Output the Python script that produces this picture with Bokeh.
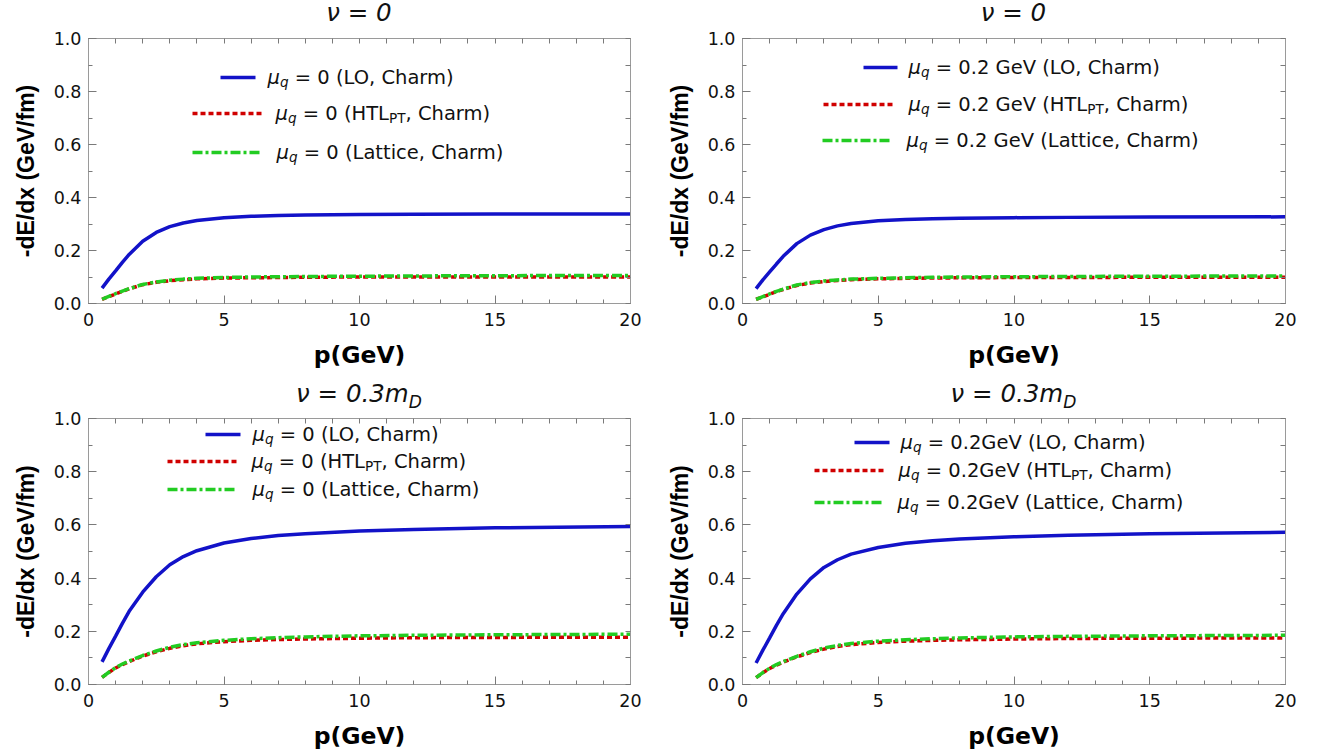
from bokeh.plotting import figure
from bokeh.layouts import column, row
from bokeh.models import Range1d, LinearAxis, SingleIntervalTicker, FixedTicker, Label, NumeralTickFormatter, Div
from bokeh.embed import file_html
from bokeh.resources import INLINE

# ---------------- data ----------------
p_gev = [0.5, 0.75, 1, 1.25, 1.5, 2, 2.5, 3, 3.5, 4, 5, 6, 7, 8, 10, 12, 15, 20]

# nu = 0, mu_q = 0
lo_nu0_mu0 = [0.058, 0.092, 0.123, 0.155, 0.185, 0.235, 0.268, 0.290, 0.304, 0.313, 0.324, 0.329, 0.332, 0.334, 0.336, 0.337, 0.338, 0.338]
htl_nu0_mu0 = [0.016, 0.026, 0.036, 0.046, 0.055, 0.071, 0.080, 0.086, 0.090, 0.093, 0.096, 0.097, 0.098, 0.099, 0.100, 0.100, 0.100, 0.100]
lat_nu0_mu0 = [0.016, 0.027, 0.037, 0.047, 0.056, 0.072, 0.081, 0.088, 0.092, 0.095, 0.098, 0.100, 0.101, 0.102, 0.103, 0.104, 0.105, 0.106]

# nu = 0, mu_q = 0.2 GeV
lo_nu0_mu02 = [0.056, 0.089, 0.119, 0.149, 0.178, 0.226, 0.258, 0.279, 0.293, 0.302, 0.312, 0.317, 0.320, 0.322, 0.324, 0.325, 0.326, 0.327]
htl_nu0_mu02 = [0.016, 0.025, 0.035, 0.045, 0.053, 0.068, 0.077, 0.083, 0.087, 0.090, 0.093, 0.095, 0.096, 0.097, 0.098, 0.098, 0.099, 0.099]
lat_nu0_mu02 = [0.016, 0.026, 0.036, 0.046, 0.054, 0.070, 0.079, 0.085, 0.089, 0.092, 0.095, 0.097, 0.099, 0.100, 0.101, 0.102, 0.103, 0.104]

# nu = 0.3 m_D, mu_q = 0
lo_nu03_mu0 = [0.085, 0.135, 0.182, 0.230, 0.275, 0.347, 0.405, 0.450, 0.481, 0.503, 0.532, 0.549, 0.560, 0.567, 0.577, 0.583, 0.589, 0.594]
htl_nu03_mu0 = [0.027, 0.045, 0.062, 0.075, 0.086, 0.107, 0.123, 0.136, 0.146, 0.153, 0.161, 0.166, 0.169, 0.171, 0.174, 0.176, 0.177, 0.178]
lat_nu03_mu0 = [0.027, 0.046, 0.063, 0.077, 0.088, 0.109, 0.126, 0.140, 0.150, 0.157, 0.166, 0.172, 0.176, 0.179, 0.183, 0.185, 0.187, 0.189]

# nu = 0.3 m_D, mu_q = 0.2 GeV
lo_nu03_mu02 = [0.081, 0.129, 0.175, 0.222, 0.266, 0.340, 0.397, 0.440, 0.469, 0.490, 0.515, 0.531, 0.540, 0.547, 0.555, 0.561, 0.567, 0.572]
htl_nu03_mu02 = [0.026, 0.044, 0.060, 0.073, 0.084, 0.104, 0.120, 0.133, 0.143, 0.150, 0.158, 0.163, 0.166, 0.168, 0.171, 0.173, 0.174, 0.175]
lat_nu03_mu02 = [0.026, 0.045, 0.061, 0.075, 0.086, 0.106, 0.123, 0.137, 0.147, 0.154, 0.163, 0.168, 0.172, 0.175, 0.179, 0.181, 0.183, 0.185]

x_label = "p(GeV)"
y_label = "-dE/dx (GeV/fm)"
titles = [("ν = 0", ""), ("ν = 0", ""), ("ν = 0.3m", "D"), ("ν = 0.3m", "D")]
mu_texts = ["0", "0.2 GeV", "0", "0.2GeV"]

# ---------------- styles ----------------
FONT = "DejaVu Sans"
YFONT = "Liberation Sans"
BLUE, RED, GREEN = "#1212C8", "#D00000", "#22CC22"
RED_DASH, GREEN_DASH = "5 3", "10 3 3 3"
LW = 3.5
FRAME = "#9a9a9a"
TICKC = "#7a7a7a"
TICK_FS = 17.5
LEG_FS = 19.5
TITLE_FS = 24.5
XLABEL_FS = 23.5
YLABEL_FS = 23

# DejaVu Sans advance widths (per 1000 em)
CW = {' ': 318, '(': 390, ')': 390, ',': 318, '.': 318, '=': 838, '-': 361, '/': 337,
      'A': 684, 'C': 698, 'D': 770, 'G': 775, 'H': 752, 'L': 557, 'O': 787, 'P': 603,
      'T': 611, 'V': 684, 'a': 613, 'c': 550, 'e': 615, 'h': 634, 'i': 278, 'm': 974,
      'r': 411, 't': 392, 'q': 635, 'μ': 636, 'ν': 592}


def tw(s, size):
    return sum(CW.get(c, 636) for c in s) / 1000.0 * size


# frame geometry in page pixels: (left, top, width, height); figure origin; figure size
panels = [
    dict(frame=(88, 38, 542, 265), origin=(0, 26), size=(659, 352),
         legend=[(220, 255, 267, 77), (192, 261, 275, 113), (192, 261, 276, 152)],
         series=(lo_nu0_mu0, htl_nu0_mu0, lat_nu0_mu0), mu=mu_texts[0]),
    dict(frame=(742, 38, 543, 265), origin=(659, 26), size=(658, 352),
         legend=[(863, 897, 908, 67), (823, 894, 908, 104), (822, 889, 906, 140)],
         series=(lo_nu0_mu02, htl_nu0_mu02, lat_nu0_mu02), mu=mu_texts[1]),
    dict(frame=(88, 418, 542, 266), origin=(0, 410), size=(659, 342),
         legend=[(205, 240, 252, 434), (167, 237, 251, 461), (167, 236, 252, 489)],
         series=(lo_nu03_mu0, htl_nu03_mu0, lat_nu03_mu0), mu=mu_texts[2]),
    dict(frame=(742, 418, 543, 266), origin=(659, 410), size=(658, 342),
         legend=[(854, 889, 900, 442), (814, 883, 898, 470), (814, 881, 897, 502)],
         series=(lo_nu03_mu02, htl_nu03_mu02, lat_nu03_mu02), mu=mu_texts[3]),
]
title_rows = [(0, 26), (378, 32)]  # (page top, height) of the title strips


def make_title(spec, ttl, strip_h):
    fl, ft, fw, fh = spec["frame"]
    ox = spec["origin"][0]
    w = spec["size"][0]
    center = fl + fw / 2.0 - ox
    box = 600
    pad = center - box / 2.0
    main, sub = ttl
    sub_html = ""
    if sub:
        sub_html = (f'<span style="font-size:{TITLE_FS*0.7:.1f}px;position:relative;top:6px;">{sub}</span>')
    html = (f'<div style="margin-left:{pad:.1f}px;width:{box}px;text-align:center;'
            f'font-family:\'{FONT}\';font-style:italic;font-size:{TITLE_FS}px;'
            f'line-height:{strip_h}px;color:#111;white-space:nowrap;">{main}{sub_html}</div>')
    return Div(text=html, width=w, height=strip_h, margin=0)


def make_panel(spec):
    fl, ft, fw, fh = spec["frame"]
    ox, oy = spec["origin"]
    W, H = spec["size"]
    bl = fl - ox
    bt = ft - oy
    br = W - bl - fw
    bb = H - bt - fh

    def X(px):
        return (px - fl) / fw * 20.0

    def Y(py):
        return (ft + fh - py) / fh

    p = figure(frame_width=fw, frame_height=fh,
               min_border_left=bl, min_border_right=br,
               min_border_top=bt, min_border_bottom=bb,
               x_range=Range1d(0, 20), y_range=Range1d(0, 1),
               output_backend="svg", toolbar_location=None,
               x_axis_label=x_label, y_axis_label=y_label, margin=0)
    p.background_fill_color = "white"
    p.border_fill_color = "white"
    p.outline_line_color = FRAME
    p.xgrid.visible = False
    p.ygrid.visible = False

    def base_axis(ax):
        ax.axis_line_color = FRAME
        ax.major_tick_line_color = TICKC
        ax.minor_tick_line_color = TICKC
        ax.major_tick_in = 8
        ax.major_tick_out = 0
        ax.minor_tick_in = 4
        ax.minor_tick_out = 0

    xa, ya = p.xaxis[0], p.yaxis[0]
    xa.ticker = SingleIntervalTicker(interval=5, num_minor_ticks=5)
    ya.ticker = SingleIntervalTicker(interval=0.2, num_minor_ticks=2)
    ya.formatter = NumeralTickFormatter(format="0.0")
    for ax in (xa, ya):
        base_axis(ax)
        ax.major_label_text_font = FONT
        ax.major_label_text_font_size = f"{TICK_FS}px"
        ax.major_label_text_color = "#111111"
        ax.axis_label_text_font_style = "bold"
        ax.axis_label_text_color = "#000000"
    xa.major_label_standoff = 9
    xa.axis_label_standoff = 12
    xa.axis_label_text_font = FONT
    xa.axis_label_text_font_size = f"{XLABEL_FS}px"
    ya.major_label_standoff = 7
    ya.axis_label_standoff = 12
    ya.axis_label_text_font = YFONT
    ya.axis_label_text_font_size = f"{YLABEL_FS}px"

    # mirrored ticks on top and right (no labels)
    top = LinearAxis(ticker=FixedTicker(ticks=[], minor_ticks=list(range(0, 21))))
    right = LinearAxis(ticker=FixedTicker(ticks=[], minor_ticks=[i / 10 for i in range(11)]))
    for ax in (top, right):
        base_axis(ax)
        ax.minor_tick_in = 5
    p.add_layout(top, "above")
    p.add_layout(right, "right")

    lo, htl, lat = spec["series"]
    p.line(p_gev, lo, line_color=BLUE, line_width=LW)
    p.line(p_gev, htl, line_color=RED, line_width=LW, line_dash=RED_DASH)
    p.line(p_gev, lat, line_color=GREEN, line_width=LW, line_dash=GREEN_DASH)

    def rich(x, y, pieces, fs):
        off = 0.0
        for t, sc, st, sub in pieces:
            size = fs * sc
            lead = len(t) - len(t.lstrip(" "))
            off += lead * CW[' '] / 1000.0 * size
            txt = t.lstrip(" ")
            by = y + (0.25 * fs if sub else 0.0)
            p.add_layout(Label(x=X(x), y=Y(by), x_offset=off, text=txt,
                               text_font=FONT, text_font_size=f"{size:.1f}px",
                               text_font_style=st, text_baseline="alphabetic",
                               text_align="left", text_color="#111111"))
            off += tw(txt, size)

    mu = spec["mu"]
    entries = [
        [("μ", 1.0, "italic", False), ("q", 0.7, "italic", True), (f" = {mu} (LO, Charm)", 1.0, "normal", False)],
        [("μ", 1.0, "italic", False), ("q", 0.7, "italic", True), (f" = {mu} (HTL", 1.0, "normal", False),
         ("PT", 0.7, "normal", True), (", Charm)", 1.0, "normal", False)],
        [("μ", 1.0, "italic", False), ("q", 0.7, "italic", True), (f" = {mu} (Lattice, Charm)", 1.0, "normal", False)],
    ]
    styles = [(BLUE, None), (RED, RED_DASH), (GREEN, GREEN_DASH)]
    for (x0, x1, tx, ty), pieces, (col, dash) in zip(spec["legend"], entries, styles):
        kw = dict(line_color=col, line_width=LW)
        if dash:
            kw["line_dash"] = dash
        p.line([X(x0), X(x1)], [Y(ty), Y(ty)], **kw)
        rich(tx, ty, pieces, LEG_FS)
    return p


figs = [make_panel(s) for s in panels]
divs = [make_title(panels[i], titles[i], title_rows[i // 2][1]) for i in range(4)]

layout = column(
    row(divs[0], divs[1], spacing=0, margin=0),
    row(figs[0], figs[1], spacing=0, margin=0),
    row(divs[2], divs[3], spacing=0, margin=0),
    row(figs[2], figs[3], spacing=0, margin=0),
    spacing=0, margin=0,
)

open("out.html", "w").write(file_html(layout, INLINE))
